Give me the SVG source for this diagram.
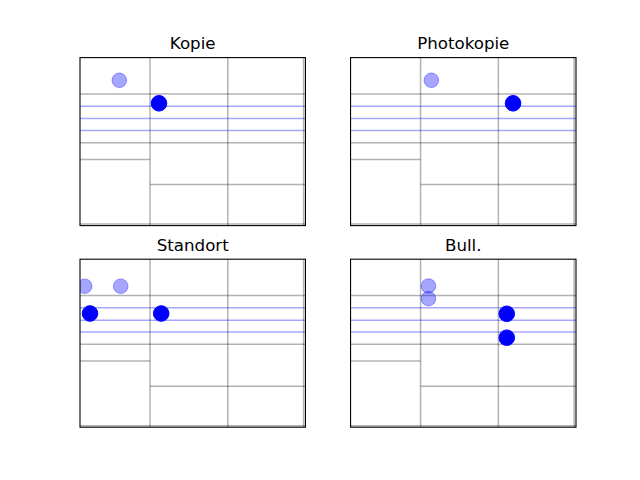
<svg xmlns="http://www.w3.org/2000/svg" width="640" height="480" viewBox="0 0 640 480">
<style>
.title{font-family:"DejaVu Sans",sans-serif;font-size:16.67px;fill:#000;text-anchor:middle}
.g{stroke:#000;stroke-opacity:0.3;stroke-width:1.5;fill:none}
.b{stroke:#00f;stroke-opacity:0.35;stroke-width:1.5;fill:none}
.spine{fill:none;stroke:#000;stroke-width:1.1}
.dk{fill:#00f;stroke:#00f;stroke-width:1}
.lt{fill:#00f;fill-opacity:0.35;stroke:#00f;stroke-opacity:0.35;stroke-width:1}
</style>
<defs>
<clipPath id="ax"><rect x="0" y="0" width="225.45" height="168"/></clipPath>
<g id="grid">
<rect x="0" y="0" width="225.45" height="168" fill="#fff"/>
<line class="g" x1="70" y1="0" x2="70" y2="168"/>
<line class="g" x1="147.8" y1="0" x2="147.8" y2="168"/>
<line class="g" x1="223.6" y1="0" x2="223.6" y2="168"/>
<line class="g" x1="0" y1="36.3" x2="225.45" y2="36.3"/>
<line class="g" x1="0" y1="85.1" x2="225.45" y2="85.1"/>
<line class="g" x1="0" y1="101.9" x2="70" y2="101.9"/>
<line class="g" x1="70" y1="127" x2="225.45" y2="127"/>
<line class="g" x1="0" y1="166.5" x2="225.45" y2="166.5"/>
<line class="b" x1="0" y1="48.6" x2="225.45" y2="48.6"/>
<line class="b" x1="0" y1="61" x2="225.45" y2="61"/>
<line class="b" x1="0" y1="72.8" x2="225.45" y2="72.8"/>
</g>
</defs>
<rect width="640" height="480" fill="#fff"/>
<g id="kopie" transform="translate(80,57.6)">
<use href="#grid"/>
<g clip-path="url(#ax)">
<circle class="lt" cx="39.3" cy="22.7" r="7.3"/>
<circle class="dk" cx="79" cy="45.7" r="7.8"/>
</g>
<rect class="spine" x="0" y="0" width="225.45" height="168"/>
<text class="title" x="112.7" y="-8.3">Kopie</text>
</g>
<g id="photokopie" transform="translate(350.55,57.6)">
<use href="#grid"/>
<g clip-path="url(#ax)">
<circle class="lt" cx="80.8" cy="22.7" r="7.3"/>
<circle class="dk" cx="162.5" cy="45.7" r="7.8"/>
</g>
<rect class="spine" x="0" y="0" width="225.45" height="168"/>
<text class="title" x="112.7" y="-8.3">Photokopie</text>
</g>
<g id="standort" transform="translate(80,259.2)">
<use href="#grid"/>
<g clip-path="url(#ax)">
<circle class="lt" cx="4.7" cy="27" r="7.3" fill-opacity="0.3" stroke-opacity="0.3"/>
<circle class="lt" cx="40.7" cy="27" r="7.3" fill-opacity="0.2" stroke-opacity="0.2"/>
<circle class="dk" cx="10" cy="54.3" r="7.8"/>
<circle class="dk" cx="81.2" cy="54.3" r="7.8"/>
</g>
<rect class="spine" x="0" y="0" width="225.45" height="168"/>
<text class="title" x="112.7" y="-8.3">Standort</text>
</g>
<g id="bull" transform="translate(350.55,259.2)">
<use href="#grid"/>
<g clip-path="url(#ax)">
<circle class="lt" cx="77.9" cy="26.8" r="7.3"/>
<circle class="lt" cx="77.9" cy="39.5" r="7.3"/>
<circle class="dk" cx="156.2" cy="54.6" r="7.8"/>
<circle class="dk" cx="156.2" cy="78.5" r="7.8"/>
</g>
<rect class="spine" x="0" y="0" width="225.45" height="168"/>
<text class="title" x="112.7" y="-8.3">Bull.</text>
</g>
</svg>
